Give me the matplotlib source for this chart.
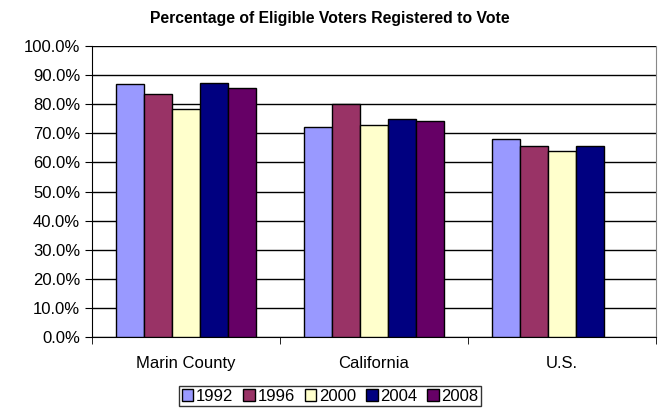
import matplotlib
matplotlib.use("Agg")
from matplotlib import pyplot as plt
import numpy as np

plt.rcParams["font.family"] = ["Liberation Sans", "DejaVu Sans"]

categories = ["Marin County", "California", "U.S."]
years = ["1992", "1996", "2000", "2004", "2008"]
values = {
    "1992": [86.9, 72.2, 68.0],
    "1996": [83.6, 80.0, 65.7],
    "2000": [78.5, 73.0, 64.0],
    "2004": [87.3, 74.8, 65.6],
    "2008": [85.6, 74.3, np.nan],
}
colors = ["#9999FF", "#993366", "#FFFFCC", "#000080", "#660066"]

fig = plt.figure(figsize=(6.6, 4.2), dpi=100)
ax = fig.add_axes([92 / 660, 83 / 420, 564 / 660, 291 / 420])

x = np.arange(len(categories))
w = 0.149
for i, yr in enumerate(years):
    ax.bar(x + (i - 2) * w, values[yr], width=w, color=colors[i],
           edgecolor="black", linewidth=1.0, label=yr, zorder=3)

ax.set_xlim(-0.5, 2.5)
ax.set_ylim(0, 100)
ax.set_yticks(np.arange(0, 101, 10))
ax.set_yticklabels(["%.1f%%" % v for v in np.arange(0, 101, 10)], fontsize=12)
ax.yaxis.grid(True, color="black", linewidth=1.0, zorder=0)
ax.set_xticks(x)
ax.set_xticklabels(categories, fontsize=12)
ax.tick_params(axis="x", length=0, pad=14)
ax.set_xticks([-0.5, 0.5, 1.5, 2.5], minor=True)
ax.tick_params(axis="x", which="minor", length=5, direction="out")
ax.tick_params(axis="y", length=5, direction="out")
ax.spines["top"].set_visible(False)
ax.spines["right"].set_color("#888888")

fig.text(0.5, 0.955, "Percentage of Eligible Voters Registered to Vote",
         ha="center", va="center", fontsize=11.3, fontweight="bold")
leg = fig.legend(loc="center", bbox_to_anchor=(0.5, 0.057), ncol=5, fontsize=12,
                 frameon=True, fancybox=False, edgecolor="black",
                 handlelength=0.7, handleheight=0.7, handletextpad=0.15,
                 columnspacing=0.6, borderpad=0.15)
leg.get_frame().set_linewidth(1.0)

fig.savefig("out.png", dpi=100)
